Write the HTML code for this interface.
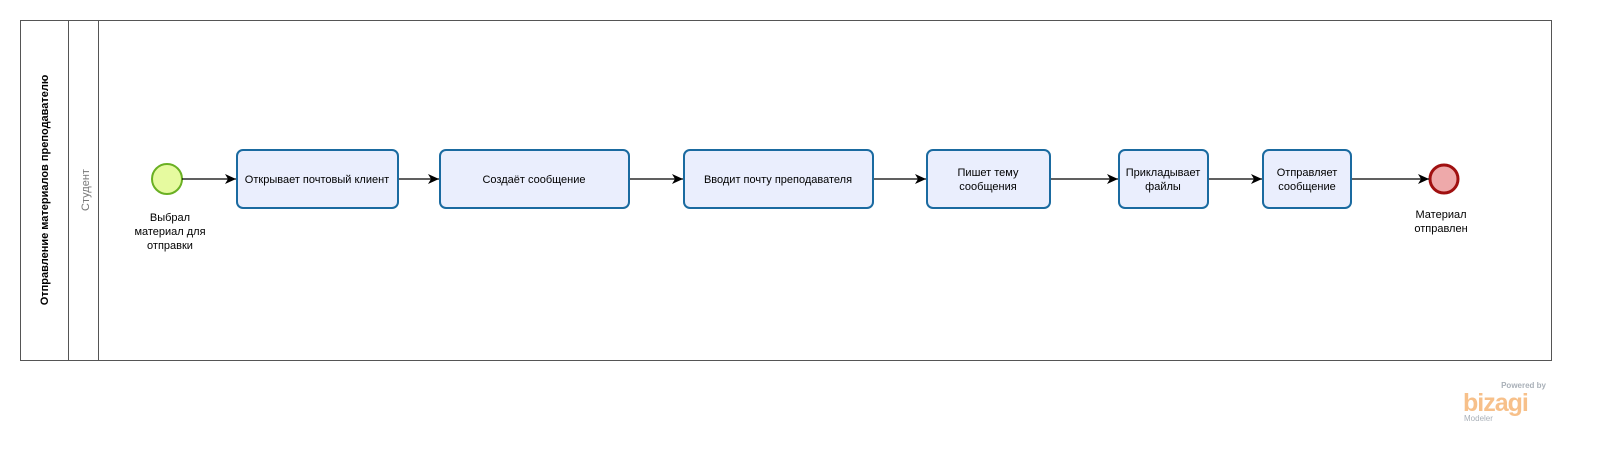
<!DOCTYPE html>
<html><head><meta charset="utf-8"><style>
html,body{margin:0;padding:0;background:#fff;width:1605px;height:463px;overflow:hidden;font-family:"Liberation Sans","DejaVu Sans",sans-serif}
svg{display:block}
</style></head><body>
<svg width="1605" height="463" viewBox="0 0 1605 463" xmlns="http://www.w3.org/2000/svg" font-family="Liberation Sans, DejaVu Sans, sans-serif">
<defs><marker id="a" markerWidth="12" markerHeight="10" refX="11" refY="5" orient="auto" markerUnits="userSpaceOnUse"><path d="M0,0 L11,5 L0,10 L3,5 Z" fill="#000"/></marker></defs>
<rect x="20.5" y="20.5" width="1531" height="340" fill="#fff" stroke="#555" stroke-width="1"/>
<line x1="68.5" y1="20" x2="68.5" y2="361" stroke="#555"/>
<line x1="98.5" y1="20" x2="98.5" y2="361" stroke="#555"/>
<text transform="translate(48,190) rotate(-90)" text-anchor="middle" font-size="11" font-weight="bold">Отправление материалов преподавателю</text>
<text transform="translate(89,190) rotate(-90)" text-anchor="middle" font-size="11" fill="#777">Студент</text>
<circle cx="167" cy="179" r="15" fill="#e6fa9f" stroke="#6ab023" stroke-width="2"/>
<text font-size="11" text-anchor="middle"><tspan x="170" y="221">Выбрал</tspan><tspan x="170" y="235">материал для</tspan><tspan x="170" y="249">отправки</tspan></text>
<circle cx="1444" cy="179" r="14" fill="#eea9aa" stroke="#a01010" stroke-width="3"/>
<text font-size="11" text-anchor="middle"><tspan x="1441" y="218">Материал</tspan><tspan x="1441" y="232">отправлен</tspan></text>
<g stroke="#000" stroke-width="1.2" marker-end="url(#a)">
<line x1="182" y1="179" x2="236" y2="179"/>
<line x1="398" y1="179" x2="439" y2="179"/>
<line x1="629" y1="179" x2="683" y2="179"/>
<line x1="873" y1="179" x2="926" y2="179"/>
<line x1="1050" y1="179" x2="1118" y2="179"/>
<line x1="1208" y1="179" x2="1262" y2="179"/>
<line x1="1351" y1="179" x2="1429" y2="179"/>
</g>
<g fill="#eaeefd" stroke="#1a6aa0" stroke-width="2">
<rect x="237" y="150" width="161" height="58" rx="6"/>
<rect x="440" y="150" width="189" height="58" rx="6"/>
<rect x="684" y="150" width="189" height="58" rx="6"/>
<rect x="927" y="150" width="123" height="58" rx="6"/>
<rect x="1119" y="150" width="89" height="58" rx="6"/>
<rect x="1263" y="150" width="88" height="58" rx="6"/>
</g>
<g font-size="11" text-anchor="middle">
<text x="317" y="183">Открывает почтовый клиент</text>
<text x="534" y="183">Создаёт сообщение</text>
<text x="778" y="183">Вводит почту преподавателя</text>
<text x="988" y="176">Пишет тему</text><text x="988" y="190">сообщения</text>
<text x="1163" y="176">Прикладывает</text><text x="1163" y="190">файлы</text>
<text x="1307" y="176">Отправляет</text><text x="1307" y="190">сообщение</text>
</g>
<text x="1546" y="388" font-size="8" font-weight="bold" fill="#a9b0b8" text-anchor="end">Powered by</text>
<text x="1463" y="411" font-size="25" font-weight="bold" fill="#f7c08a" letter-spacing="-1">bizagi</text>
<text x="1464" y="421" font-size="8" fill="#a9b0b8">Modeler</text>
</svg>
</body></html>
